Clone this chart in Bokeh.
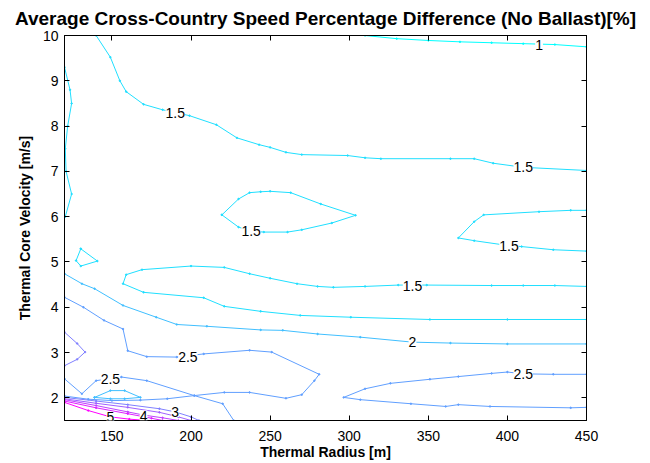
from bokeh.plotting import figure
from bokeh.models import ColumnDataSource, FixedTicker, LinearAxis, Range1d, LabelSet
from bokeh.core.properties import value
from bokeh.embed import file_html
from bokeh.resources import INLINE

# ---- contour lines of the speed difference [%] over (radius, core velocity) ----
# level 1.0, top right
c10_top_x = [310, 330, 350, 370, 390, 410, 430, 450]
c10_top_y = [10.0, 9.93, 9.89, 9.86, 9.84, 9.82, 9.80, 9.75]

# level 1.5, upper sweep from the top edge to the right edge
c15_upper_x = [140, 149, 155, 159, 170, 182, 199, 216, 229, 243, 250, 260, 270, 299, 310, 320, 364, 379, 391, 410, 450]
c15_upper_y = [10.0, 9.52, 9.0, 8.76, 8.48, 8.36, 8.23, 8.03, 7.74, 7.59, 7.53, 7.42, 7.37, 7.35, 7.30, 7.28, 7.28, 7.28, 7.18, 7.09, 7.02]

# level 1.5, wiggle along the left edge
c15_left_x = [120, 123.5, 124.5, 122, 120.5, 121, 124.5, 120.5]
c15_left_y = [9.3, 8.8, 8.5, 8.0, 7.5, 7.0, 6.5, 6.0]

# level 1.5, closed loop in the middle
c15_loop_x = [219.5, 230, 237, 244, 250, 263, 282, 304, 289, 270, 261, 246, 238, 230, 219.5]
c15_loop_y = [6.04, 6.39, 6.53, 6.55, 6.56, 6.53, 6.28, 6.03, 5.86, 5.71, 5.66, 5.66, 5.68, 5.77, 6.04]

# level 1.5, tongue entering from the right
c15_right_x = [450, 440, 420, 385, 379, 369, 379, 401, 409, 429, 450]
c15_right_y = [6.14, 6.14, 6.11, 6.04, 5.89, 5.53, 5.47, 5.36, 5.34, 5.27, 5.24]

# level 1.5, small triangle near the left edge
c15_tri_x = [130.3, 127.3, 130.3, 140.8, 130.3]
c15_tri_y = [5.29, 5.03, 4.91, 5.02, 5.29]

# level 1.5, long band around 4-5 m/s
c15_band_x = [450, 430, 410, 390, 349, 331, 310, 290, 280, 267, 250, 237, 221, 200, 169, 159, 157,
              170, 208, 221, 244, 269, 301, 351, 400, 450]
c15_band_y = [4.46, 4.48, 4.48, 4.48, 4.49, 4.49, 4.46, 4.44, 4.46, 4.52, 4.64, 4.74, 4.88, 4.91, 4.83, 4.72, 4.52,
              4.33, 4.21, 4.02, 3.91, 3.82, 3.78, 3.73, 3.73, 3.73]

# level 2.0
c20_x = [120, 131, 139, 157, 178, 191, 210, 244, 258, 280, 307, 340, 364, 400, 450]
c20_y = [4.74, 4.52, 4.41, 4.04, 3.78, 3.62, 3.58, 3.50, 3.49, 3.41, 3.34, 3.23, 3.21, 3.19, 3.19]

# level 2.0, small lens at the lower left
c20_lens_x = [139, 149, 158, 168, 158, 149, 139]
c20_lens_y = [2.01, 2.16, 2.16, 2.01, 1.98, 1.98, 2.01]

# level 2.5, from the left edge round the loop and back through the saddle
c25_a_x = [120, 132, 145, 157, 160, 172, 191, 208, 237, 251, 281, 278, 270, 260, 237, 221, 202, 185, 168, 150, 135, 120]
c25_a_y = [4.22, 4.00, 3.71, 3.52, 3.04, 2.91, 2.90, 2.97, 3.05, 3.01, 2.52, 2.38, 2.07, 1.99, 2.12, 2.12, 2.05, 1.98, 1.95, 1.94, 1.97, 2.04]

# level 2.5, from the left edge through the saddle down to the bottom edge
c25_b_x = [120, 131, 140, 156, 172, 202, 220, 227]
c25_b_y = [2.42, 2.09, 2.38, 2.46, 2.38, 2.05, 1.87, 1.50]

# level 2.5, tongue entering from the right
c25_right_x = [450, 429, 410, 400, 390, 369, 351, 326, 310, 296.5, 307, 339, 361, 369, 389, 440, 450]
c25_right_y = [2.52, 2.52, 2.53, 2.57, 2.54, 2.47, 2.41, 2.32, 2.20, 2.01, 1.96, 1.87, 1.81, 1.85, 1.81, 1.78, 1.79]

# level 3.0, bump on the left edge
c30_bump_x = [120, 128, 133, 128, 120]
c30_bump_y = [3.45, 3.20, 3.01, 2.85, 2.71]

# steep fan in the lower left corner
c30_x = [120, 140, 160, 180, 190, 200, 205]
c30_y = [2.01, 1.93, 1.85, 1.76, 1.69, 1.58, 1.50]
c35_x = [120, 140, 160, 180, 192, 200]
c35_y = [1.98, 1.88, 1.79, 1.68, 1.58, 1.50]
c40_x = [120, 140, 160, 170, 182, 192]
c40_y = [1.96, 1.83, 1.69, 1.62, 1.56, 1.50]
c45_x = [120, 140, 160, 175, 182]
c45_y = [1.93, 1.78, 1.65, 1.55, 1.50]
c50_x = [120, 135, 149, 161, 172]
c50_y = [1.90, 1.72, 1.58, 1.53, 1.50]

contours = [
    (1.0, c10_top_x, c10_top_y),
    (1.5, c15_upper_x, c15_upper_y),
    (1.5, c15_left_x, c15_left_y),
    (1.5, c15_loop_x, c15_loop_y),
    (1.5, c15_right_x, c15_right_y),
    (1.5, c15_tri_x, c15_tri_y),
    (1.5, c15_band_x, c15_band_y),
    (2.0, c20_x, c20_y),
    (2.0, c20_lens_x, c20_lens_y),
    (2.5, c25_a_x, c25_a_y),
    (2.5, c25_b_x, c25_b_y),
    (2.5, c25_right_x, c25_right_y),
    (3.0, c30_bump_x, c30_bump_y),
    (3.0, c30_x, c30_y),
    (3.5, c35_x, c35_y),
    (4.0, c40_x, c40_y),
    (4.5, c45_x, c45_y),
    (5.0, c50_x, c50_y),
]

# inline contour labels
label_x = [420, 190, 410, 238, 401, 340, 340, 198, 149, 410, 190, 170, 149]
label_y = [9.80, 8.28, 7.09, 5.68, 5.36, 4.48, 3.23, 2.91, 2.42, 2.53, 1.69, 1.61, 1.57]
label_text = ["1", "1.5", "1.5", "1.5", "1.5", "1.5", "2", "2.5", "2.5", "2.5", "3", "4", "5"]

x_ticks = [150, 200, 250, 300, 350, 400, 450]
y_ticks = [2, 3, 4, 5, 6, 7, 8, 9, 10]

LEVEL_MIN, LEVEL_MAX = 1.0, 5.0


def cool(level):
    """MATLAB 'cool' colormap: cyan at the lowest level, magenta at the highest."""
    t = min(max((level - LEVEL_MIN) / (LEVEL_MAX - LEVEL_MIN), 0.0), 1.0)
    return "#%02x%02x%02x" % (round(255 * t), round(255 * (1 - t)), 255)


xs = [c[1] for c in contours]
ys = [c[2] for c in contours]
colors = [cool(c[0]) for c in contours]
lines = ColumnDataSource(dict(xs=xs, ys=ys, color=colors))

pts_x, pts_y, pts_c = [], [], []
for lev, cx, cy in contours:
    pts_x += cx
    pts_y += cy
    pts_c += [cool(lev)] * len(cx)
points = ColumnDataSource(dict(x=pts_x, y=pts_y, color=pts_c))

FONT = "Liberation Sans"

p = figure(width=650, height=463, output_backend="svg", toolbar_location=None,
           x_range=Range1d(120, 450), y_range=Range1d(1.5, 10),
           min_border_left=64, min_border_right=64, min_border_top=35, min_border_bottom=43)
p.grid.visible = False
p.outline_line_color = "black"
p.outline_line_width = 1
p.background_fill_color = "white"
p.border_fill_color = "white"

p.multi_line("xs", "ys", color="color", line_width=1, source=lines)
p.scatter("x", "y", color="color", size=1.5, source=points)

labels = LabelSet(x="x", y="y", text="text",
                  source=ColumnDataSource(dict(x=label_x, y=label_y, text=label_text)),
                  text_font=value(FONT), text_font_size="14px", text_color="black",
                  text_align="center", text_baseline="middle",
                  background_fill_color="white", background_fill_alpha=1.0)
p.add_layout(labels)

p.title.text = "Average Cross-Country Speed Percentage Difference (No Ballast)[%]"
p.title.align = "center"
p.title.vertical_align = "top"
p.title.text_font = FONT
p.title.text_font_size = "19px"
p.title.text_font_style = "bold"
p.title.text_color = "black"
p.title.standoff = 10


def style_axis(ax, ticks, show_labels):
    ax.ticker = FixedTicker(ticks=ticks)
    ax.axis_line_color = "black"
    ax.major_tick_line_color = "black"
    ax.major_tick_in = 5
    ax.major_tick_out = 0
    ax.minor_tick_line_color = None
    ax.major_label_text_font = FONT
    if show_labels:
        ax.major_label_text_font_size = "14px"
        ax.major_label_text_color = "black"
    else:
        ax.major_label_text_font_size = "0px"
        ax.major_label_text_color = None
        ax.major_label_standoff = 0


style_axis(p.xaxis[0], x_ticks, True)
style_axis(p.yaxis[0], y_ticks, True)
p.xaxis[0].axis_label = "Thermal Radius [m]"
p.yaxis[0].axis_label = "Thermal Core Velocity [m/s]"
for ax in (p.xaxis[0], p.yaxis[0]):
    ax.axis_label_text_font = FONT
    ax.axis_label_text_font_size = "14px"
    ax.axis_label_text_font_style = "bold"
    ax.axis_label_text_color = "black"
p.xaxis[0].major_label_standoff = 10
p.xaxis[0].axis_label_standoff = 0
p.yaxis[0].major_label_standoff = 6
p.yaxis[0].axis_label_standoff = 7

top_axis = LinearAxis()
style_axis(top_axis, x_ticks, False)
p.add_layout(top_axis, "above")
right_axis = LinearAxis()
style_axis(right_axis, y_ticks, False)
p.add_layout(right_axis, "right")

open("out.html", "w").write(file_html(p, INLINE))
